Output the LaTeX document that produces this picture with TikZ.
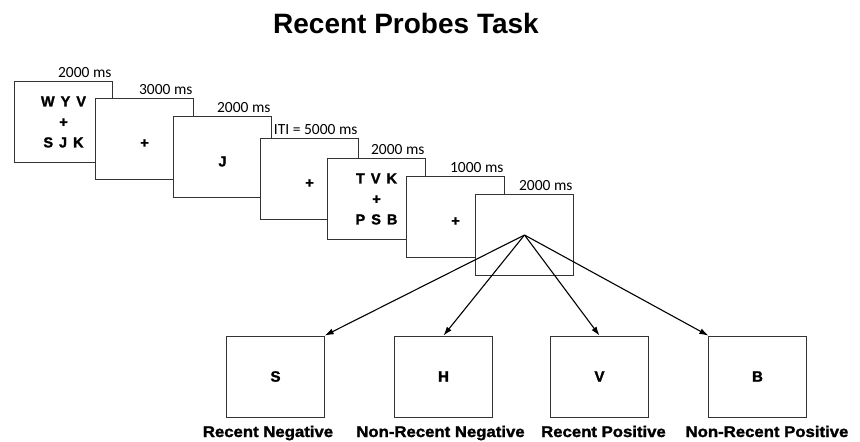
\documentclass[tikz,border=0pt]{standalone}
\usepackage{fontspec}
\setmainfont{Liberation Sans}
\newfontfamily\calib{Carlito}
\newfontfamily\heavy{Liberation Sans Bold}[FakeBold=1.6]
\usetikzlibrary{arrows.meta}
\newcommand{\lgap}{\hspace{6pt}}
\newcommand{\low}[1]{\raisebox{-4.5pt}[\height][\depth]{#1}}

\begin{document}
\begin{tikzpicture}[x=1pt,y=-1pt,
	frame/.style={draw=black!80, fill=white, line width=0.8pt, minimum width=97.5pt, minimum height=81pt, inner sep=0pt, align=center, font=\heavy\fontsize{14.5}{20.5}\selectfont},
	probe/.style={frame, font=\heavy\fontsize{15}{16}\selectfont},
	dur/.style={anchor=south east, inner xsep=1pt, inner ysep=3pt, font=\calib\fontsize{15.5}{16}\selectfont},
	kind/.style={anchor=base, inner sep=0pt, font=\heavy\fontsize{15.5}{16}\selectfont},
	arr/.style={-{Latex[length=9pt,width=6pt]}, line width=1.1pt}]
	
	\useasboundingbox (0,0) rectangle (860,442);
	\node[font=\fontsize{28}{30}\selectfont\bfseries] (title) at (406,23) {Recent Probes Task};
	
	% study set, delay, probe
	\node[frame] (f1) at (63.5,122) {W\lgap Y\lgap V\\+\\S\lgap J\lgap K};
	\node[dur] (d1) at (f1.north east) {2000 ms};
	\node[frame] (f2) at (144.5,139) {\low{+}};
	\node[dur] (d2) at (f2.north east) {3000 ms};
	\node[frame] (f3) at (222.5,157) {\low{J}};
	\node[dur] (d3) at (f3.north east) {2000 ms};
	\node[frame] (f4) at (309.5,179) {\low{+}};
	\node[dur] (d4) at (f4.north east) {ITI = 5000 ms};
	\node[frame] (f5) at (376.5,199) {T\lgap V\lgap K\\+\\P\lgap S\lgap B};
	\node[dur] (d5) at (f5.north east) {2000 ms};
	\node[frame] (f6) at (455.5,217) {\low{+}};
	\node[dur] (d6) at (f6.north east) {1000 ms};
	\node[frame] (f7) at (524.5,235) {};
	\node[dur] (d7) at (f7.north east) {2000 ms};
	
	% probe types
	\node[probe] (p1) at (275.5,376.5) {S};
	\node[probe] (p2) at (443.5,376.5) {H};
	\node[probe] (p3) at (599.5,376.5) {V};
	\node[probe] (p4) at (757.5,376.5) {B};
	\node[kind] (k1) at (268,437) {\scalebox{1.08}[1]{Recent Negative}};
	\node[kind] (k2) at (440.5,437) {\scalebox{1.08}[1]{Non-Recent Negative}};
	\node[kind] (k3) at (603.5,437) {\scalebox{1.08}[1]{Recent Positive}};
	\node[kind] (k4) at (767,437) {\scalebox{1.08}[1]{Non-Recent Positive}};
	
	\draw[arr] (f7.center) -- (p1.north east);
	\draw[arr] (f7.center) -- (p2.north);
	\draw[arr] (f7.center) -- (p3.north);
	\draw[arr] (f7.center) -- (p4.north west);
\end{tikzpicture}
\end{document}
